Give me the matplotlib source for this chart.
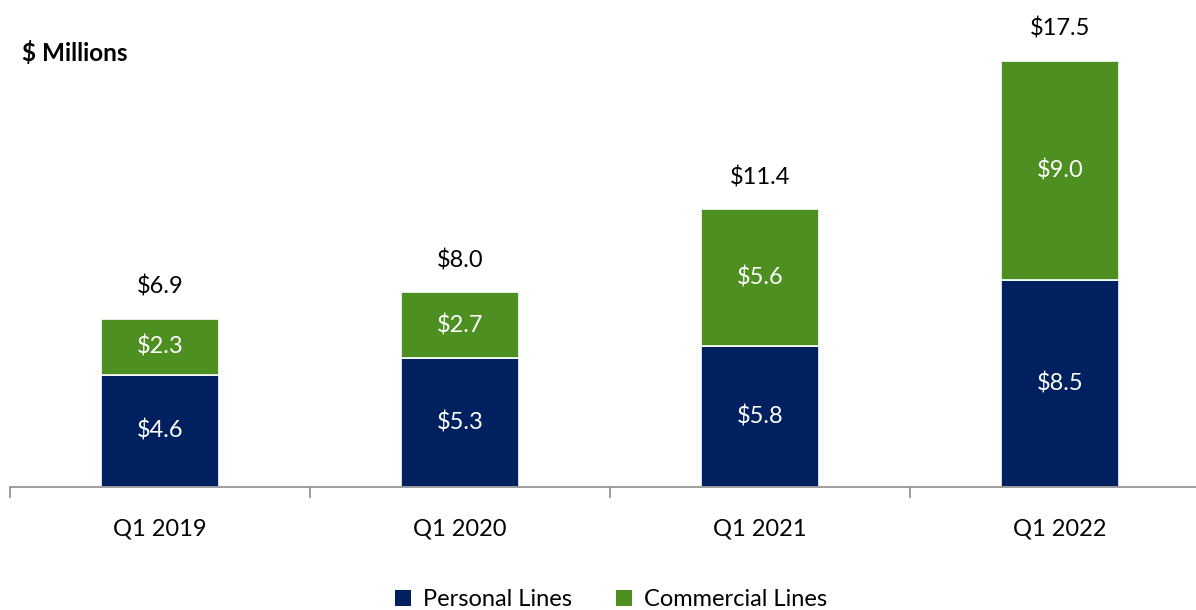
import matplotlib
matplotlib.use("Agg")
import matplotlib.pyplot as plt
from matplotlib.patches import Patch
import numpy as np

plt.rcParams['font.family'] = ['Lato', 'DejaVu Sans']

categories = ["Q1 2019", "Q1 2020", "Q1 2021", "Q1 2022"]
personal = [4.6, 5.3, 5.8, 8.5]
commercial = [2.3, 2.7, 5.6, 9.0]
totals = [6.9, 8.0, 11.4, 17.5]

navy = "#002060"
green = "#4E8F21"
axis_gray = "#8C8C8C"
fs = 17

fig = plt.figure(figsize=(11.96, 6.10), dpi=100)
ax = fig.add_axes([10/1196, (610-487)/610, 1200/1196, 487/610])

x = np.arange(len(categories))
w = 0.393
ax.bar(x, personal, width=w, color=navy, edgecolor="white", linewidth=1.2, zorder=2)
ax.bar(x, commercial, width=w, bottom=personal, color=green, edgecolor="white", linewidth=1.2, zorder=2)

for i in range(len(categories)):
    ax.text(x[i], personal[i]/2, f"${personal[i]:.1f}", ha="center", va="center",
            color="white", fontsize=fs)
    ax.text(x[i], personal[i] + commercial[i]/2, f"${commercial[i]:.1f}", ha="center",
            va="center", color="white", fontsize=fs)
    ax.annotate(f"${totals[i]:.1f}", (x[i], totals[i]), xytext=(0, 32),
                textcoords="offset pixels", ha="center", va="center",
                fontsize=fs, color="black")

ax.set_xlim(-0.5, 3.5)
ax.set_ylim(0, 20)
for s in ["top", "right", "left"]:
    ax.spines[s].set_visible(False)
ax.spines["bottom"].set_color(axis_gray)
ax.spines["bottom"].set_linewidth(1.2)
ax.set_yticks([])
ax.set_xticks(x)
ax.set_xticklabels(categories, fontsize=fs)
ax.tick_params(axis="x", which="major", length=0, pad=23)
ax.set_xticks(np.arange(-0.5, 3.6, 1.0), minor=True)
ax.tick_params(axis="x", which="minor", length=8, width=1.2, color=axis_gray, direction="out")

fig.text(22/1196, 1 - 53/610, "$ Millions", fontsize=17.5, fontweight="bold",
         ha="left", va="center")

handles = [Patch(facecolor=navy, label="Personal Lines"),
           Patch(facecolor=green, label="Commercial Lines")]
fig.legend(handles=handles, loc="center", bbox_to_anchor=(611/1196, 1 - 600/610),
           ncol=2, frameon=False, fontsize=fs, handlelength=0.65, handleheight=0.65,
           handletextpad=0.5, columnspacing=1.9)

fig.savefig("out.png", dpi=100)
